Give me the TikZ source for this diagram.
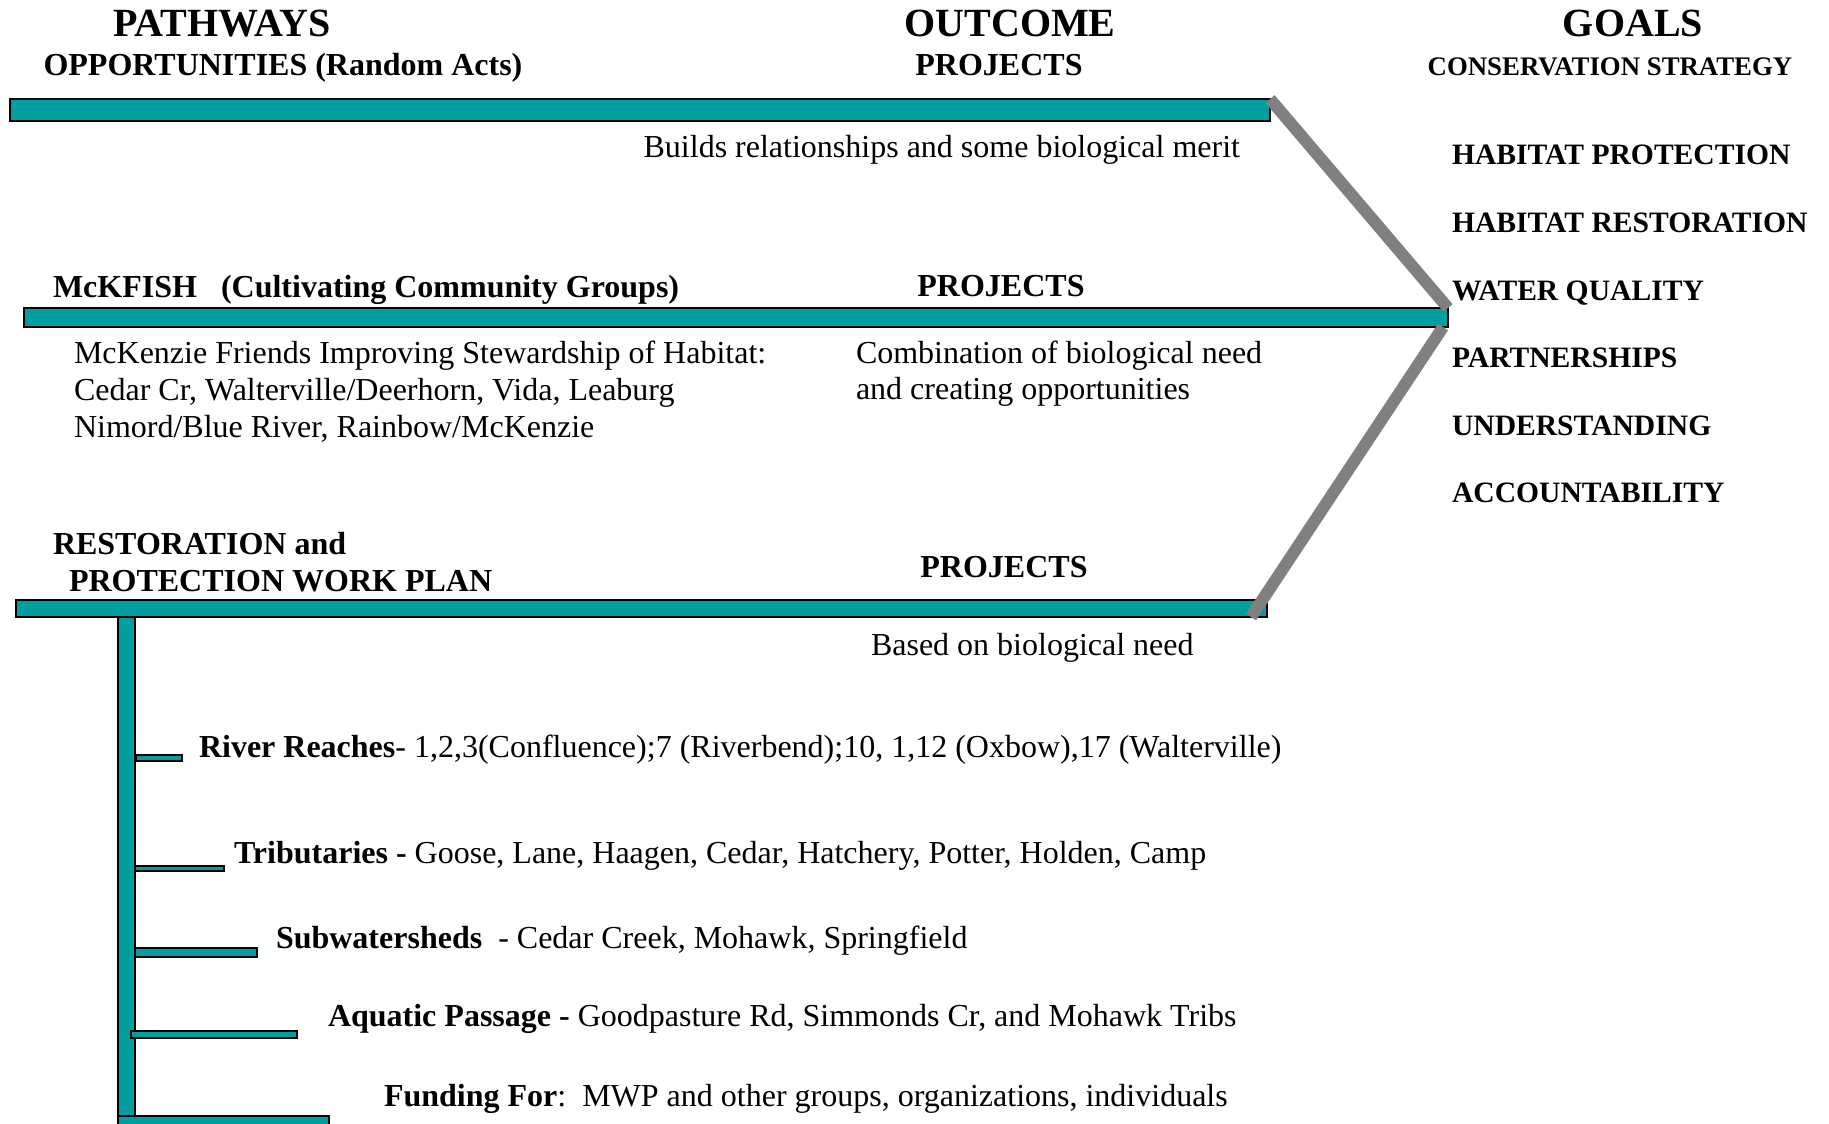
\documentclass[tikz,border=0pt]{standalone}
\usepackage{fontspec}
\setmainfont{Liberation Serif}
\definecolor{barteal}{RGB}{0,158,158}
\definecolor{linkgrey}{RGB}{128,128,128}
\begin{document}
\begin{tikzpicture}[x=1pt,y=-1pt,
  bar/.style={draw=black, line width=1.8pt, fill=barteal, inner sep=0pt, outer sep=0pt, anchor=north west},
  link/.style={draw=linkgrey, line width=12pt},
  txt/.style={anchor=base west, inner sep=0pt, outer sep=0pt},
  body/.style={txt, font=\fontsize{32}{37}\selectfont},
  head/.style={txt, font=\fontsize{32}{38}\selectfont\bfseries},
  bighead/.style={anchor=base, inner sep=0pt, outer sep=0pt, font=\fontsize{40}{46}\selectfont\bfseries},
  subhead/.style={anchor=base, inner sep=0pt, outer sep=0pt, font=\fontsize{32}{38}\selectfont\bfseries},
  goal/.style={txt, font=\fontsize{29.6}{34}\selectfont\bfseries}]
\clip (0,0) rectangle (1829,1124);
\fill[white] (0,0) rectangle (1829,1124);

% column titles
\node[bighead] (tpath) at (222,37) {PATHWAYS};
\node[subhead] (topp) at (283,75) {OPPORTUNITIES (Random Acts)};
\node[bighead] (tout) at (1010,37) {OUTCOME};
\node[subhead] (tproj) at (999,75) {PROJECTS};
\node[bighead] (tgoal) at (1633,37) {GOALS};
\node[anchor=base, inner sep=0pt, font=\fontsize{26.8}{32}\selectfont\bfseries] (tcons) at (1610,75) {CONSERVATION STRATEGY};

% bars
\node[bar, minimum width=1260pt, minimum height=22pt] (bar1) at (10,99) {};
\node[bar, minimum width=1424pt, minimum height=19pt] (bar2) at (24,308) {};
\node[bar, minimum width=1251pt, minimum height=17pt] (bar3) at (16,600) {};
\node[bar, minimum width=17pt, minimum height=520pt] (stem) at (118,617) {};
\node[bar, minimum width=46pt, minimum height=6pt] (brr) at (136,755) {};
\node[bar, minimum width=89pt, minimum height=5pt] (btrib) at (135,866) {};
\node[bar, minimum width=122pt, minimum height=9pt] (bsub) at (135,948) {};
\node[bar, minimum width=166pt, minimum height=7pt] (baq) at (131,1031) {};
\node[bar, minimum width=211pt, minimum height=20pt] (bfund) at (118,1116) {};

% grey connectors
\draw[link] (bar1.north east) -- (bar2.north east);
\draw[link] ([xshift=-5pt]bar2.south east) -- ([xshift=-16pt]bar3.south east);

% row 1
\node[body, anchor=base east] (builds) at (1240,157) {Builds relationships and some biological merit};

% row 2
\node[head] (mckfish) at (53,297) {McKFISH\ \ \ (Cultivating Community Groups)};
\node[subhead] (proj2) at (1001,296) {PROJECTS};
\node[body] (mck1) at (74,363) {McKenzie Friends Improving Stewardship of Habitat:};
\node[body] (mck2) at (74,400) {Cedar Cr, Walterville/Deerhorn, Vida, Leaburg};
\node[body] (mck3) at (74,437) {Nimord/Blue River, Rainbow/McKenzie};
\node[body] (comb1) at (856,363) {Combination of biological need};
\node[body] (comb2) at (856,399) {and creating opportunities};

% row 3
\node[head] (rest1) at (53,554) {RESTORATION and};
\node[head] (rest2) at (69,591) {PROTECTION WORK PLAN};
\node[subhead] (proj3) at (1004,577) {PROJECTS};
\node[body] (based) at (871,655) {Based on biological need};

% branches
\node[body] (trr) at (199,757) {\textbf{River Reaches}- 1,2,3(Confluence);7 (Riverbend);10, 1,12 (Oxbow),17 (Walterville)};
\node[body] (ttrib) at (234,863) {\textbf{Tributaries -} Goose, Lane, Haagen, Cedar, Hatchery, Potter, Holden, Camp};
\node[body] (tsub) at (276,948) {\textbf{Subwatersheds}\ \ - Cedar Creek, Mohawk, Springfield};
\node[body] (taq) at (328,1026) {\textbf{Aquatic Passage -} Goodpasture Rd, Simmonds Cr, and Mohawk Tribs};
\node[body] (tfund) at (384,1106) {\textbf{Funding For}:\ \ MWP and other groups, organizations, individuals};

% goals
\node[goal] (g1) at (1452,164) {HABITAT PROTECTION};
\node[goal] (g2) at (1452,232) {HABITAT RESTORATION};
\node[goal] (g3) at (1452,300) {WATER QUALITY};
\node[goal] (g4) at (1452,367) {PARTNERSHIPS};
\node[goal] (g5) at (1452,435) {UNDERSTANDING};
\node[goal] (g6) at (1452,502) {ACCOUNTABILITY};
\end{tikzpicture}
\end{document}
